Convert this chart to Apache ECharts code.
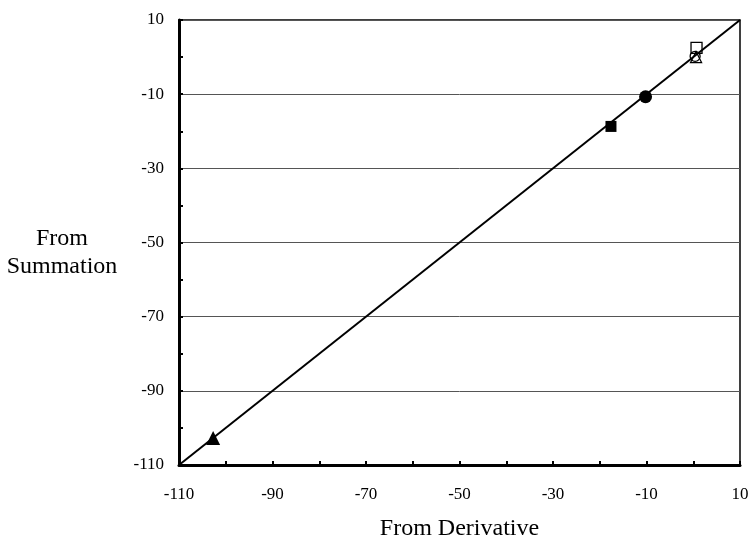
<!DOCTYPE html>
<html>
<head>
<meta charset="utf-8">
<script src="https://cdn.jsdelivr.net/npm/echarts@6/dist/echarts.min.js"></script>
<style>
html, body { margin: 0; padding: 0; background: #fff; }
#Chart { width: 751px; height: 539px; }
</style>
</head>
<body>
<div id="Chart"></div>
<script>
// identity line endpoints
let lineX = [-110, 10]
let lineY = [-110, 10]

// points: [from derivative, from summation]
let filledTriangle = [[-102.7, -102.7]]
let filledSquare = [[-17.6, -18.7]]
let filledCircle = [[-10.2, -10.7]]
let openSquare = [[0.7, 2.5]]
let openCircle = [[0.4, 0.2]]
let openTriangle = [[0.6, 0.0]]

let fontName = "'Liberation Serif', 'Times New Roman', serif"

let chart = echarts.init(document.getElementById("Chart"))

function markerSeries(data, symbol, size, filled) {
    return {
        type: 'scatter',
        data: data,
        symbol: symbol,
        symbolSize: size,
        z: 5,
        itemStyle: {
            color: filled ? '#000' : 'rgba(255,255,255,0)',
            borderColor: '#000',
            borderWidth: filled ? 0 : 1.3,
            opacity: 1
        }
    }
}

let options = {
    animation: false,
    grid: {
        left: 179, right: 11, top: 20, bottom: 74,
        outerBoundsMode: 'none',
        containLabel: false,
        show: true,
        borderColor: '#000',
        borderWidth: 1.5
    },
    // y axis title sits horizontally left of the axis, two lines
    graphic: [{
        type: 'text',
        x: 62,
        y: 225,
        style: {
            text: 'From\nSummation',
            font: '24px ' + fontName,
            fill: '#000',
            align: 'center',
            verticalAlign: 'top',
            textAlign: 'center',
            textVerticalAlign: 'top',
            lineHeight: 28
        }
    }],
    xAxis: {
        type: 'value',
        min: -110, max: 10, interval: 20,
        name: 'From Derivative',
        nameLocation: 'middle',
        nameGap: 52,
        nameTextStyle: { fontFamily: fontName, fontSize: 24, color: '#000' },
        axisLine: { show: true, onZero: false, lineStyle: { color: '#000', width: 3 } },
        axisTick: { show: true, inside: true, length: 4, lineStyle: { color: '#000', width: 2 } },
        minorTick: { show: true, splitNumber: 2, length: 4, lineStyle: { color: '#000', width: 2 } },
        axisLabel: { fontFamily: fontName, fontSize: 17, color: '#000', margin: 21 },
        splitLine: { show: false }
    },
    yAxis: {
        type: 'value',
        min: -110, max: 10, interval: 20,
        axisLine: { show: true, onZero: false, lineStyle: { color: '#000', width: 3 } },
        axisTick: { show: true, inside: true, length: 4, lineStyle: { color: '#000', width: 2 } },
        minorTick: { show: true, splitNumber: 2, length: 4, lineStyle: { color: '#000', width: 2 } },
        axisLabel: { fontFamily: fontName, fontSize: 17, color: '#000', margin: 15 },
        splitLine: { show: true, lineStyle: { color: '#555', width: 1 } }
    },
    series: [
        {
            type: 'line',
            data: lineX.map((x, i) => [x, lineY[i]]),
            showSymbol: false,
            symbol: 'none',
            lineStyle: { color: '#000', width: 2 },
            z: 3
        },
        markerSeries(filledTriangle, 'triangle', 14, true),
        markerSeries(filledSquare, 'rect', 11, true),
        markerSeries(filledCircle, 'circle', 13, true),
        markerSeries(openSquare, 'rect', 11, false),
        markerSeries(openTriangle, 'triangle', 11, false),
        markerSeries(openCircle, 'circle', 10, false)
    ]
}

chart.setOption(options)
</script>
</body>
</html>
